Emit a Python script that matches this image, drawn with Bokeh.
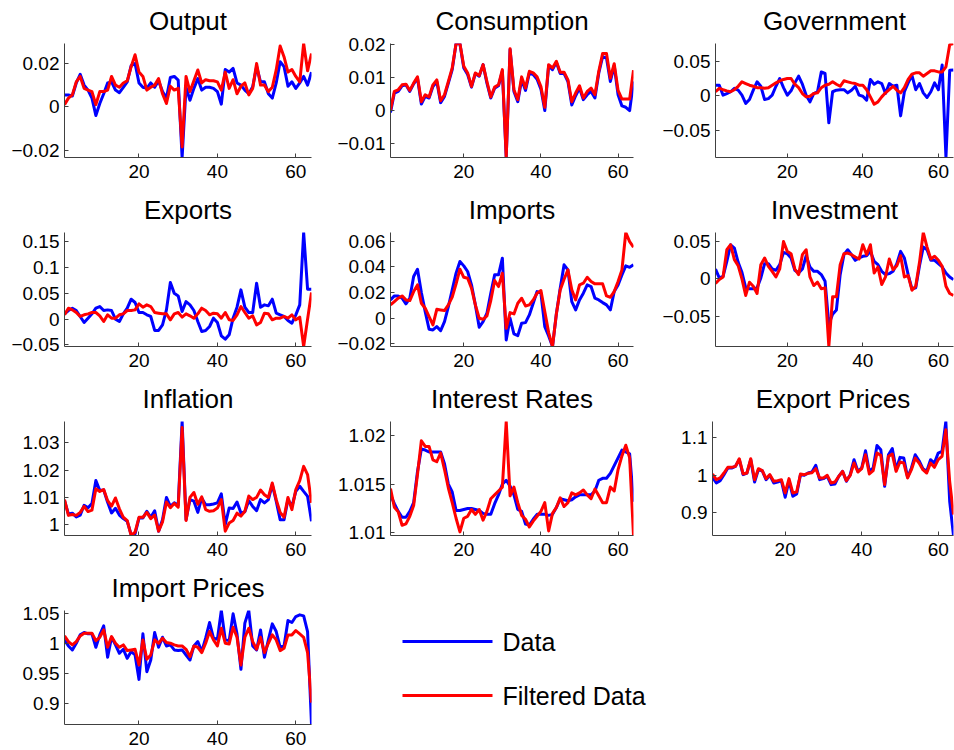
from bokeh.plotting import figure
from bokeh.layouts import column, row
from bokeh.models import Range1d, FixedTicker
from bokeh.core.properties import value
from bokeh.embed import file_html
from bokeh.resources import INLINE

periods = list(range(1, 65))
x_ticks = [20, 40, 60]
x_tick_labels = ["20", "40", "60"]

output_data = [0.0054, 0.0054, 0.005, 0.011, 0.015, 0.010, 0.0077, 0.004,
               -0.004, 0.0015, 0.006, 0.011, 0.0115, 0.0077, 0.0065, 0.009,
               0.0115, 0.019, 0.020, 0.011, 0.009, 0.0085, 0.011, 0.009,
               0.012, 0.007, 0.004, 0.0135, 0.014, 0.0123, -0.0234, 0.009,
               0.003, 0.0085, 0.013, 0.0077, 0.009, 0.009, 0.0085, 0.007,
               0.0012, 0.0172, 0.016, 0.0177, 0.011, 0.010, 0.0077, 0.006,
               0.0092, 0.0185, 0.0115, 0.0115, 0.006, 0.004, 0.011, 0.0208,
               0.0185, 0.0095, 0.0115, 0.0085, 0.011, 0.014, 0.010, 0.016]
output_filtered = [0.001, 0.004, 0.0055, 0.0115, 0.014, 0.0085, 0.0077, 0.007,
                   0.001, 0.007, 0.007, 0.0077, 0.014, 0.010, 0.009, 0.011,
                   0.012, 0.0185, 0.024, 0.016, 0.014, 0.0077, 0.009, 0.010,
                   0.013, 0.006, 0.0015, 0.0095, 0.0077, 0.0085, -0.0185, 0.014,
                   0.007, 0.012, 0.017, 0.011, 0.0125, 0.012, 0.012, 0.0115,
                   0.0077, 0.016, 0.0085, 0.0125, 0.006, 0.0095, 0.011, 0.0055,
                   0.0085, 0.020, 0.010, 0.010, 0.007, 0.009, 0.017, 0.028,
                   0.023, 0.016, 0.0172, 0.014, 0.0115, 0.0292, 0.0166, 0.0246]

consumption_data = [-0.0005, 0.0054, 0.0059, 0.0076, 0.0079, 0.0059, 0.0082, 0.0099,
                    0.0021, 0.0044, 0.0039, 0.0074, 0.0089, 0.0025, 0.0044, 0.0084,
                    0.0125, 0.0204, 0.0203, 0.0130, 0.0110, 0.0072, 0.0113, 0.0105,
                    0.0140, 0.0084, 0.0039, 0.0069, 0.0076, 0.0120, -0.0141, 0.0186,
                    0.0059, 0.0028, 0.0094, 0.0062, 0.0115, 0.0110, 0.0096, 0.0066,
                    0.0001, 0.0137, 0.0125, 0.0147, 0.0113, 0.0113, 0.0089, 0.0018,
                    0.0046, 0.0069, 0.0034, 0.0049, 0.0059, 0.0039, 0.0115, 0.0164,
                    0.0160, 0.0089, 0.0137, 0.0049, 0.0015, 0.0011, 0.0001, 0.0089]
consumption_filtered = [0.0003, 0.0059, 0.0064, 0.0079, 0.0081, 0.0062, 0.0084, 0.0103,
                        0.0028, 0.0049, 0.0042, 0.0079, 0.0094, 0.0031, 0.0049, 0.0089,
                        0.0130, 0.0204, 0.0204, 0.0135, 0.0115, 0.0074, 0.0115, 0.0107,
                        0.0140, 0.0089, 0.0042, 0.0072, 0.0079, 0.0125, -0.0139, 0.0188,
                        0.0064, 0.0034, 0.0103, 0.0069, 0.0120, 0.0115, 0.0103, 0.0074,
                        0.0011, 0.0140, 0.0130, 0.0150, 0.0117, 0.0117, 0.0094, 0.0028,
                        0.0054, 0.0076, 0.0039, 0.0059, 0.0069, 0.0049, 0.0120, 0.0174,
                        0.0174, 0.0099, 0.0143, 0.0062, 0.0036, 0.0036, 0.0036, 0.0123]

government_data = [0.0156, 0.0156, 0.001, 0.0034, 0.006, 0.011, 0.0083, 0.001,
                   -0.011, -0.0054, 0.0083, 0.0205, 0.014, -0.0054, -0.004, 0.001,
                   0.014, 0.0254, 0.012, 0.001, 0.0073, 0.019, 0.0288, 0.017,
                   0.001, -0.0088, 0.0034, 0.006, 0.035, 0.0327, -0.0395, 0.006,
                   0.0083, 0.009, 0.009, 0.0044, 0.0083, 0.014, 0.001, -0.0005,
                   -0.0063, 0.024, 0.017, 0.0205, 0.018, 0.0034, 0.018, 0.014,
                   0.0156, -0.0293, 0.006, 0.019, 0.030, 0.009, 0.018, 0.0044,
                   -0.0024, 0.006, 0.019, 0.009, 0.045, -0.0902, 0.0376, 0.038]
government_filtered = [0.006, 0.011, 0.009, 0.0073, 0.006, 0.009, 0.014, 0.0205,
                       0.018, 0.0156, 0.014, 0.012, 0.012, 0.011, 0.012, 0.0156,
                       0.019, 0.022, 0.024, 0.0254, 0.0254, 0.017, 0.012, 0.0034,
                       -0.0015, -0.0005, 0.0034, 0.0044, 0.012, 0.0156, 0.017, 0.0205,
                       0.017, 0.014, 0.022, 0.0205, 0.019, 0.018, 0.0156, 0.0156,
                       0.009, -0.0015, -0.0122, -0.0088, -0.0015, 0.0044, 0.009, 0.014,
                       0.0083, 0.0044, 0.012, 0.024, 0.0317, 0.0337, 0.0337, 0.0288,
                       0.0327, 0.0366, 0.0366, 0.035, 0.035, 0.0424, 0.075, 0.0766]

exports_data = [0.0103, 0.0168, 0.0213, 0.0168, 0.0052, -0.0065, 0.0019, 0.0103,
                0.0213, 0.0245, 0.0168, 0.018, 0.0168, 0.0, -0.0045, 0.0103,
                0.0213, 0.0387, 0.0323, 0.0129, 0.0129, 0.0084, 0.0052, -0.0219,
                -0.0219, -0.011, 0.018, 0.071, 0.050, 0.045, 0.0148, 0.034,
                0.0277, 0.0168, -0.0045, -0.0239, -0.0219, -0.0142, 0.0019, -0.0065,
                -0.0323, -0.0387, -0.0303, 0.0019, 0.0232, 0.0568, 0.0232, 0.0129,
                0.0129, 0.0697, 0.0232, 0.0277, 0.0258, 0.0387, 0.0116, 0.0084,
                0.0052, -0.0026, -0.0077, 0.0084, 0.0277, 0.168, 0.058, 0.058]
exports_filtered = [0.0084, 0.0213, 0.018, 0.0129, 0.0052, 0.0084, 0.0103, 0.0129,
                    0.0129, 0.0065, -0.0045, 0.0084, 0.0019, 0.0019, 0.0084, 0.0103,
                    0.0168, 0.0168, 0.018, 0.0297, 0.0232, 0.0277, 0.0245, 0.0129,
                    0.0116, 0.0103, 0.0103, -0.0013, 0.0103, 0.0129, 0.0039, 0.0103,
                    0.0065, 0.0019, 0.0103, 0.0213, 0.0168, 0.0084, 0.0116, 0.0103,
                    0.0019, 0.0129, -0.0013, -0.0026, 0.0084, 0.0245, 0.0129, 0.0019,
                    0.0065, -0.011, -0.0065, 0.0116, 0.0103, -0.0013, 0.0019, 0.0019,
                    0.0052, 0.0019, 0.0084, -0.0013, 0.0039, -0.053, 0.0, 0.0516]

imports_data = [0.0143, 0.0174, 0.0174, 0.0156, 0.0112, 0.0156, 0.0325, 0.0382,
                0.020, 0.0052, -0.0086, -0.0091, -0.0065, -0.0096, -0.0026, 0.0091,
                0.0221, 0.0351, 0.0442, 0.0408, 0.0364, 0.026, 0.0104, -0.007,
                -0.0026, 0.0039, 0.0195, 0.0338, 0.0338, 0.0468, -0.0169, 0.0,
                -0.0122, -0.0135, -0.0039, -0.0034, 0.0026, 0.0117, 0.0208, 0.0195,
                -0.0065, -0.0138, -0.022, 0.0034, 0.0234, 0.0416, 0.0377, 0.013,
                0.0065, 0.0143, 0.0195, 0.026, 0.0247, 0.0156, 0.0143, 0.0122,
                0.0104, 0.0065, 0.0208, 0.026, 0.0338, 0.0408, 0.0397, 0.0416]
imports_filtered = [0.0104, 0.013, 0.0156, 0.0174, 0.0143, 0.0138, 0.0208, 0.026,
                    0.0117, 0.0078, 0.0013, -0.0052, 0.007, 0.0065, 0.006, 0.0104,
                    0.0164, 0.0268, 0.0382, 0.0319, 0.0312, 0.0234, 0.0104, 0.0,
                    -0.0008, 0.0018, 0.0138, 0.0294, 0.0247, 0.0351, -0.0078, 0.0044,
                    0.0034, 0.0117, 0.0156, 0.0096, 0.0104, 0.0143, 0.0195, 0.0216,
                    0.0052, -0.0112, -0.022, 0.0034, 0.0221, 0.0304, 0.0377, 0.0221,
                    0.0143, 0.026, 0.0273, 0.0319, 0.0286, 0.0268, 0.0268, 0.0268,
                    0.0174, 0.0164, 0.0208, 0.0286, 0.0377, 0.0668, 0.0597, 0.0553]

investment_data = [0.0132, 0.0013, 0.0035, 0.0233, 0.0454, 0.041, 0.022, 0.0088,
                   -0.0119, -0.0132, -0.0132, -0.0119, 0.0013, 0.0203, 0.0203, 0.0132,
                   0.0115, 0.0189, 0.0352, 0.0335, 0.0278, 0.0115, 0.0079, 0.0132,
                   0.0308, 0.0159, 0.0101, 0.0101, 0.0057, -0.0031, -0.0604, -0.0471,
                   -0.0414, 0.0057, 0.0322, 0.0388, 0.0322, 0.0247, 0.0278, 0.03,
                   0.0308, 0.0366, 0.0233, 0.0189, 0.0101, 0.0057, 0.007, 0.0101,
                   0.0203, 0.0366, 0.0278, 0.0057, -0.0132, -0.0119, 0.0176, 0.0423,
                   0.0388, 0.0247, 0.0247, 0.0203, 0.0159, 0.0079, 0.0026, -0.001]
investment_filtered = [-0.0062, -0.0009, 0.0026, 0.0388, 0.0454, 0.0256, 0.0176, 0.0,
                       -0.022, -0.0044, -0.0097, -0.0194, 0.0189, 0.0278, 0.0167, 0.0101,
                       0.0026, 0.0132, 0.0498, 0.0366, 0.0335, 0.0132, 0.0057, 0.0322,
                       0.0388, 0.0026, -0.0088, -0.0044, -0.0132, -0.0119, -0.0899, -0.0238,
                       -0.0238, 0.0189, 0.0335, 0.0344, 0.0322, 0.0291, 0.0264, 0.0454,
                       0.0322, 0.0454, 0.0079, 0.0159, -0.0075, 0.0026, 0.0264, 0.0123,
                       0.0176, 0.0308, 0.0026, 0.0044, -0.015, -0.0097, 0.022, 0.0617,
                       0.0423, 0.0264, 0.03, 0.0247, 0.0167, -0.0097, -0.0194, -0.022]

inflation_data = [1.0088, 1.0039, 1.0042, 1.0028, 1.0035, 1.0071, 1.0062, 1.0078,
                  1.0162, 1.0125, 1.0127, 1.0082, 1.0043, 1.006, 1.0035, 1.0022,
                  1.0012, 0.9963, 0.9966, 1.0024, 1.0024, 1.0049, 1.0027, 1.0051,
                  0.9976, 1.0018, 1.01, 1.0067, 1.008, 1.0071, 1.0379, 1.0018,
                  1.0092, 1.0086, 1.0045, 1.0098, 1.0073, 1.0073, 1.0076, 1.008,
                  1.0113, 1.0, 1.0061, 1.0059, 1.0083, 1.0043, 1.0047, 1.0088,
                  1.0067, 1.0051, 1.0092, 1.008, 1.0092, 1.0147, 1.0086, 1.0018,
                  1.0018, 1.0092, 1.0067, 1.0122, 1.0141, 1.0122, 1.0104, 1.0012]
inflation_filtered = [1.0092, 1.0034, 1.0037, 1.0034, 1.0045, 1.0067, 1.0048, 1.0053,
                      1.0132, 1.0122, 1.0129, 1.0088, 1.0068, 1.0098, 1.0058, 1.0027,
                      1.0015, 0.996, 0.9972, 1.0027, 1.0027, 1.0045, 1.0022, 1.0035,
                      0.9976, 1.001, 1.0083, 1.0062, 1.0078, 1.0064, 1.0357, 1.0015,
                      1.01, 1.0118, 1.0075, 1.0102, 1.0055, 1.0049, 1.0051, 1.0061,
                      1.0092, 0.9976, 1.0006, 1.0015, 1.0042, 1.0031, 1.0049, 1.0105,
                      1.0092, 1.01, 1.0127, 1.011, 1.01, 1.0153, 1.0092, 1.0045,
                      1.0027, 1.01, 1.0055, 1.0129, 1.0162, 1.0214, 1.0184, 1.008]

interest_data = [1.0139, 1.0130, 1.0122, 1.0116, 1.0116, 1.0122, 1.0131, 1.0163,
                 1.0186, 1.0185, 1.0183, 1.0183, 1.0183, 1.0183, 1.0171, 1.0150,
                 1.0142, 1.0123, 1.0123, 1.0124, 1.0125, 1.0125, 1.0124, 1.0123,
                 1.0120, 1.0119, 1.0119, 1.0130, 1.0139, 1.0150, 1.0154, 1.0148,
                 1.0139, 1.0124, 1.0122, 1.0109, 1.0108, 1.0114, 1.0119, 1.0119,
                 1.0119, 1.0118, 1.0119, 1.0126, 1.0135, 1.0134, 1.0133, 1.0134,
                 1.0137, 1.0139, 1.0139, 1.0139, 1.0139, 1.0143, 1.0154, 1.0156,
                 1.0156, 1.0161, 1.0169, 1.0177, 1.0185, 1.0183, 1.0181, 1.0132]
interest_filtered = [1.01454, 1.01263, 1.01215, 1.01078, 1.01092, 1.0117, 1.0128, 1.016,
                     1.01945, 1.01887, 1.01887, 1.0175, 1.0173, 1.0182, 1.0165, 1.0146,
                     1.0131, 1.0115, 1.0101, 1.0115, 1.0117, 1.0124, 1.0119, 1.0124,
                     1.0113, 1.0122, 1.0135, 1.0139, 1.0143, 1.0147, 1.02143, 1.0138,
                     1.0147, 1.0131, 1.0118, 1.0114, 1.0106, 1.0112, 1.0117, 1.0122,
                     1.0131, 1.0102, 1.012, 1.0126, 1.0136, 1.0127, 1.0131, 1.0141,
                     1.0139, 1.0141, 1.0144, 1.0139, 1.0135, 1.0145, 1.0138, 1.0131,
                     1.0131, 1.0147, 1.0143, 1.0165, 1.0179, 1.019, 1.0177, 1.00973]

export_prices_data = [0.9947, 0.9796, 0.9858, 1.0018, 1.0196, 1.0196, 1.024, 1.0418,
                      1.0018, 1.0062, 1.0418, 0.9822, 1.0151, 1.0124, 0.9884, 1.0,
                      0.9796, 0.9822, 0.9858, 0.9413, 0.9858, 0.944, 0.9502, 1.0018,
                      1.0, 1.0062, 1.0089, 1.0267, 0.9884, 0.9911, 0.9973, 0.9751,
                      0.9769, 0.9973, 1.0107, 0.984, 1.0018, 1.0418, 1.0107, 1.0196,
                      1.0658, 1.0107, 1.0196, 1.08, 1.0684, 0.9707, 1.0551, 1.0716,
                      1.0151, 1.048, 1.0462, 0.9947, 1.0196, 1.0551, 1.0391, 1.0178,
                      1.0107, 1.0418, 1.0329, 1.0596, 1.064, 1.144, 0.9307, 0.839]
export_prices_filtered = [1.0036, 0.9884, 0.9929, 1.0062, 1.0213, 1.0213, 1.024, 1.0444,
                          1.0036, 1.0062, 1.0444, 0.9884, 1.0178, 1.0124, 0.9911, 1.0018,
                          0.984, 0.9858, 0.9884, 0.9529, 0.9911, 0.9529, 0.9556, 1.0036,
                          1.0018, 1.0053, 1.0071, 1.0178, 0.9929, 0.9929, 1.0, 0.9796,
                          0.9822, 0.9973, 1.0107, 0.9858, 1.0, 1.0329, 1.0089, 1.0178,
                          1.0551, 1.0036, 1.0124, 1.0596, 1.0533, 0.9751, 1.0507, 1.0569,
                          1.0107, 1.0356, 1.0329, 0.9929, 1.0151, 1.0462, 1.0329, 1.0151,
                          1.0062, 1.0329, 1.0213, 1.0418, 1.0507, 1.1218, 0.984, 0.895]

import_prices_data = [1.0062, 0.9961, 0.9894, 1.0006, 1.0146, 1.0185, 1.0163, 1.0163,
                      0.9939, 1.0146, 1.0297, 0.9771, 1.0106, 0.9978, 0.9838, 0.9905,
                      0.9754, 0.9866, 0.981, 0.9401, 1.0163, 0.953, 0.9726, 1.0185,
                      0.9939, 1.0106, 0.9961, 0.9978, 0.9894, 0.9883, 0.9894, 0.981,
                      0.9726, 0.9961, 1.0034, 0.9866, 1.009, 1.0353, 1.009, 1.0073,
                      1.0554, 1.0062, 1.005, 1.0498, 1.0163, 0.9569, 1.0342, 1.0554,
                      0.9961, 0.9894, 1.0229, 0.9771, 1.0062, 1.033, 1.0202, 0.9939,
                      0.9961, 1.0386, 1.0353, 1.0453, 1.0481, 1.0464, 1.02, 0.8646]
import_prices_filtered = [1.0129, 1.0034, 0.9978, 1.0034, 1.0129, 1.0174, 1.0174, 1.0174,
                          1.005, 1.0106, 1.0229, 0.9939, 1.0118, 1.0006, 0.9939, 0.9978,
                          0.9883, 0.9894, 0.9905, 0.9642, 1.0062, 0.9737, 0.981, 1.0062,
                          1.0006, 1.009, 1.0017, 1.0006, 0.9978, 0.9961, 0.9961, 0.9905,
                          0.9782, 0.9961, 0.9939, 0.9849, 1.0006, 1.0202, 1.0062, 0.9961,
                          1.0257, 1.0006, 0.9994, 1.0274, 1.0106, 0.9642, 1.0106, 1.0257,
                          1.0034, 0.9905, 1.0106, 0.9849, 1.0006, 1.0146, 1.0062, 0.9883,
                          0.9922, 1.0146, 1.0146, 1.0218, 1.0163, 1.0106, 0.985, 0.9012]

titles = ["Output", "Consumption", "Government", "Exports", "Imports",
          "Investment", "Inflation", "Interest Rates", "Export Prices", "Import Prices"]
series_data = [output_data, consumption_data, government_data, exports_data, imports_data,
               investment_data, inflation_data, interest_data, export_prices_data, import_prices_data]
series_filtered = [output_filtered, consumption_filtered, government_filtered, exports_filtered,
                   imports_filtered, investment_filtered, inflation_filtered, interest_filtered,
                   export_prices_filtered, import_prices_filtered]
y_ticks = [[-0.02, 0, 0.02], [-0.01, 0, 0.01, 0.02], [-0.05, 0, 0.05],
           [-0.05, 0, 0.05, 0.1, 0.15], [-0.02, 0, 0.02, 0.04, 0.06], [-0.05, 0, 0.05],
           [1.0, 1.01, 1.02, 1.03], [1.01, 1.015, 1.02], [0.9, 1.0, 1.1],
           [0.9, 0.95, 1.0, 1.05]]
y_tick_labels = [["\u22120.02", "0", "0.02"], ["\u22120.01", "0", "0.01", "0.02"],
                 ["\u22120.05", "0", "0.05"], ["\u22120.05", "0", "0.05", "0.1", "0.15"],
                 ["\u22120.02", "0", "0.02", "0.04", "0.06"], ["\u22120.05", "0", "0.05"],
                 ["1", "1.01", "1.02", "1.03"], ["1.01", "1.015", "1.02"],
                 ["0.9", "1", "1.1"], ["0.9", "0.95", "1", "1.05"]]
legend_labels = ["Data", "Filtered Data"]

BLUE = "#0000ff"
RED = "#ff0000"
AXIS = "#404040"
FONT = "Liberation Sans"

# layout (pixels)
COL_W = [334, 325, 295]
COL_BL = [64, 53, 53]
COL_BR = [23, 26, 1]
ROW_H = [189, 189, 189, 183]
ROW_BB = [32, 32, 32, 26]
BT = 43


def panel(k):
    r, c = divmod(k, 3)
    allv = series_data[k] + series_filtered[k]
    p = figure(width=COL_W[c], height=ROW_H[r], output_backend="svg", toolbar_location=None,
               x_range=Range1d(1, 64), y_range=Range1d(min(allv), max(allv)),
               min_border_left=COL_BL[c], min_border_right=COL_BR[c],
               min_border_top=BT, min_border_bottom=ROW_BB[r], title=titles[k])
    p.outline_line_color = None
    p.grid.visible = False
    p.title.text_font = FONT
    p.title.text_font_size = "26px"
    p.title.text_font_style = "normal"
    p.title.text_color = "black"
    p.title.align = "center"
    p.title.vertical_align = "top"
    p.title.standoff = 11
    p.line(periods, series_data[k], line_color=BLUE, line_width=3, line_join="round")
    p.line(periods, series_filtered[k], line_color=RED, line_width=3, line_join="round")
    p.xaxis.ticker = FixedTicker(ticks=x_ticks)
    p.xaxis.major_label_overrides = dict(zip(x_ticks, x_tick_labels))
    p.yaxis.ticker = FixedTicker(ticks=y_ticks[k])
    p.yaxis.major_label_overrides = dict(zip(y_ticks[k], y_tick_labels[k]))
    for ax in (p.xaxis[0], p.yaxis[0]):
        ax.axis_line_color = AXIS
        ax.axis_line_width = 1
        ax.major_tick_line_color = AXIS
        ax.major_tick_in = 4
        ax.major_tick_out = 0
        ax.minor_tick_line_color = None
        ax.major_label_text_font = FONT
        ax.major_label_text_font_size = "19px"
        ax.major_label_text_color = "black"
    p.xaxis.major_label_standoff = 7
    p.yaxis.major_label_standoff = 5
    return p


figs = [panel(k) for k in range(10)]

# legend panel: its frame lines up with the Import Prices frame (114 px tall)
LW = COL_W[1]
FRAME_H = ROW_H[3] - BT - ROW_BB[3]
leg = figure(width=LW, height=ROW_H[3], output_backend="svg", toolbar_location=None,
             x_range=Range1d(0, LW), y_range=Range1d(0, FRAME_H),
             x_axis_type=None, y_axis_type=None,
             min_border_left=0, min_border_right=0,
             min_border_top=BT, min_border_bottom=ROW_BB[3])
leg.outline_line_color = None
leg.grid.visible = False
SAMPLE_X = [68, 158]
LABEL_X = 168
ITEM_Y = [83, 29]
for col, lab, yy in zip([BLUE, RED], legend_labels, ITEM_Y):
    leg.line(SAMPLE_X, [yy, yy], line_color=col, line_width=3)
    leg.text(x=[LABEL_X], y=[yy], text=[lab], text_font=value(FONT), text_font_size="25px",
             text_baseline="middle", text_align="left", text_color="black")

layout = column(row(figs[0], figs[1], figs[2]),
                row(figs[3], figs[4], figs[5]),
                row(figs[6], figs[7], figs[8]),
                row(figs[9], leg))

open("out.html", "w").write(file_html(layout, INLINE))
